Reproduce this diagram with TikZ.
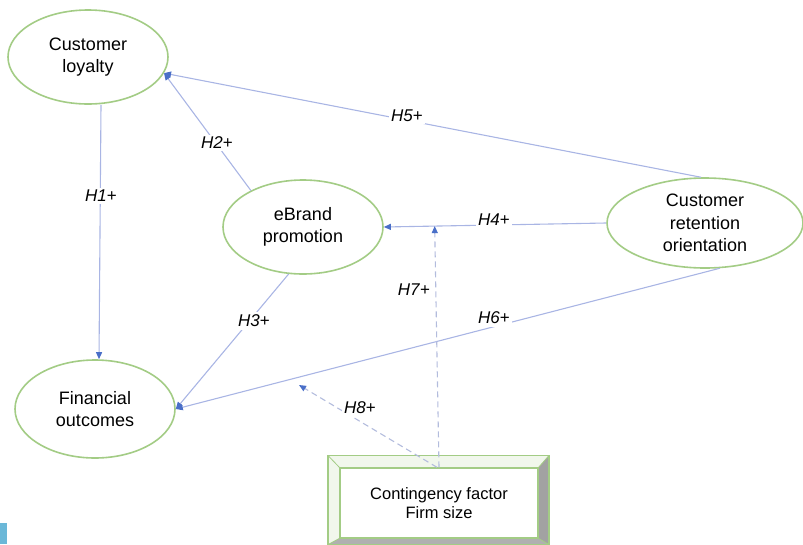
\documentclass[tikz,border=0pt]{standalone}
\usepackage{fontspec}
\setmainfont{Liberation Sans}
\usetikzlibrary{arrows.meta,calc,shapes.geometric}
\definecolor{ellgreen}{HTML}{A3CC85}
\definecolor{linkblue}{HTML}{A9B5E4}
\definecolor{tipblue}{HTML}{4A6FC8}
\definecolor{dashblue}{HTML}{B3BCDD}
\definecolor{bevelgray}{HTML}{A2A2A2}
\definecolor{bevellight}{HTML}{F1F7EC}
\definecolor{cornerblue}{HTML}{6BB8D8}
\begin{document}
\begin{tikzpicture}[x=1pt,y=-1pt,
  construct/.style={ellipse, draw=ellgreen, line width=1.6pt, fill=white,
    minimum width=160pt, minimum height=94pt, inner sep=0pt, align=center,
    font=\fontsize{18}{22.5}\selectfont},
  link/.style={draw=linkblue, line width=1.1pt,
    -{Triangle[length=7pt,width=6pt,color=tipblue]}},
  dlink/.style={link, draw=dashblue, dash pattern=on 6pt off 4pt},
  hyp/.style={fill=white, inner sep=2.5pt, font=\fontsize{17}{20}\selectfont}
]
\useasboundingbox (0,0) rectangle (803,544);

% constructs
\node[construct] (cl) at (88,57) {Customer\\loyalty};
\node[construct, minimum height=98pt] (fin) at (95,409) {Financial\\outcomes};
\node[construct] (eb) at (303,227) {eBrand\\promotion};
\node[construct, minimum width=196pt, minimum height=90pt] (ret) at (705,223) {Customer\\retention\\orientation};

% contingency box (bevelled)
\path node[minimum width=221pt, minimum height=89pt, inner sep=0pt] (box) at (438.5,500) {};
\path node[minimum width=198pt, minimum height=70pt, inner sep=0pt] (inb) at (439,503) {};
\fill[bevellight] (box.north west) -- (box.north east) -- (inb.north east) -- (inb.south west) -- (box.south west) -- cycle;
\fill[bevelgray] (box.north east) -- (box.south east) -- (inb.south east) -- (inb.north east) -- cycle;
\fill[bevelgray!85] (box.south west) -- (box.south east) -- (inb.south east) -- (inb.south west) -- cycle;
\draw[ellgreen, line width=0.8pt] (box.north west) -- (inb.north west) (box.north east) -- (inb.north east)
  (box.south west) -- (inb.south west) (box.south east) -- (inb.south east);
\draw[ellgreen, line width=1.6pt] (box.south west) rectangle (box.north east);
\node[draw=ellgreen, line width=1.4pt, fill=white, minimum width=198pt, minimum height=70pt,
  inner sep=0pt, align=center, font=\fontsize{16.5}{19}\selectfont] (inner) at (439,503)
  {Contingency factor\\Firm size};

% auxiliary points
\coordinate (m7) at ($(eb.east)!(inner.north)!(ret.west)$);
\coordinate (m8) at (299,385);

% hypotheses
\draw[link] ([xshift=13pt]cl.south) -- ([xshift=4pt]fin.north);
\draw[link] (eb.145) -- (cl.-12);
\draw[link] (ret.95) -- (cl.-12);
\draw[link] (ret.west) -- (eb.east);
\draw[link] (eb.-107) -- (fin.east);
\draw[link] (ret.-72) -- (fin.east);
\draw[dlink] (inner.north) -- (m7);
\draw[dlink] ([xshift=-2pt]inner.north) -- (m8);

% labels
\node[hyp] (l1) at (101,196) {\textit{H1}+};
\node[hyp] (l2) at (217,143) {\textit{H2}+};
\node[hyp] (l3) at (254,321) {\textit{H3}+};
\node[hyp] (l4) at (494,220) {\textit{H4}+};
\node[hyp] (l5) at (407,116) {\textit{H5}+};
\node[hyp] (l6) at (494,318) {\textit{H6}+};
\node[hyp] (l7) at (414,290) {\textit{H7}+};
\node[hyp] (l8) at (360,408) {\textit{H8}+};

% corner mark
\fill[cornerblue] (0,523) rectangle (7,544);
\end{tikzpicture}
\end{document}
